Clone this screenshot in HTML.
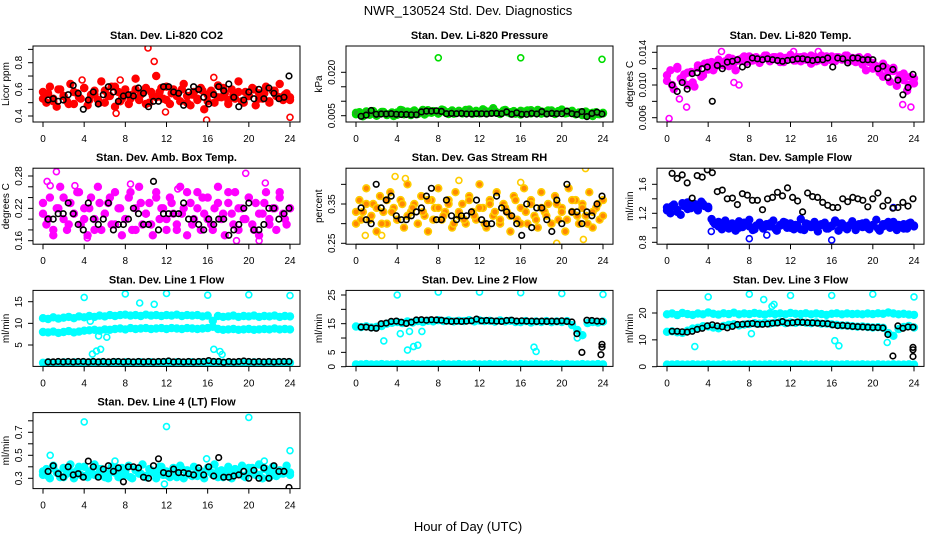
<!DOCTYPE html>
<html><head><meta charset="utf-8">
<style>
html,body{margin:0;padding:0;background:#fff;}
svg{display:block;font-family:"Liberation Sans",Arial,sans-serif;}
</style></head>
<body>
<svg id="chart" width="936" height="540" viewBox="0 0 936 540" xmlns="http://www.w3.org/2000/svg">
<rect width="936" height="540" fill="#fff"/>
<text x="468" y="15" text-anchor="middle" font-size="13">NWR_130524 Std. Dev. Diagnostics</text>
<text x="468" y="531" text-anchor="middle" font-size="13">Hour of Day (UTC)</text>
</svg>
<script>
const xTicks = [0,4,8,12,16,20,24];

const co2 = [0.58,0.50,0.62,0.53,0.47,0.60,0.55,0.51,0.64,0.49,0.57,0.53,0.61,0.48,0.56,0.59,0.52,0.66,0.50,0.55,0.62,0.47,0.58,0.53,0.60,0.49,0.56,0.68,0.52,0.57,0.61,0.50,0.55,0.70,0.58,0.53,0.62,0.49,0.60,0.56,0.51,0.64,0.55,0.48,0.58,0.52,0.61,0.45,0.56,0.59,0.50,0.63,0.54,0.57,0.49,0.60,0.53,0.66,0.51,0.58,0.55,0.61,0.48,0.57,0.53,0.62,0.50,0.59,0.55,0.64,0.52,0.57,0.54];
const co2B = [0.53,0.57,0.51,0.60,0.55,0.49,0.58,0.54,0.61,0.52,0.56,0.50,0.59,0.55,0.62,0.51,0.57,0.53,0.60,0.56,0.49,0.58,0.54,0.61,0.52,0.57,0.55,0.60,0.50,0.56,0.53,0.59,0.51,0.57,0.54,0.61,0.52,0.56,0.58,0.50,0.55,0.60,0.53,0.57,0.51,0.59,0.54,0.56,0.52];
const co2Out = [[10.2,0.91],[10.8,0.81],[15.9,0.37],[24,0.39],[7.1,0.42],[11.9,0.43],[16.6,0.69],[7.5,0.67],[3.8,0.67]];
const co2Black = [0.52,0.53,0.51,0.52,0.56,0.63,0.57,0.45,0.52,0.58,0.49,0.56,0.62,0.58,0.51,0.55,0.56,0.55,0.61,0.57,0.47,0.51,0.51,0.62,0.62,0.58,0.57,0.48,0.58,0.62,0.60,0.54,0.49,0.56,0.62,0.59,0.64,0.54,0.47,0.52,0.58,0.53,0.60,0.53,0.61,0.57,0.53,0.54,0.70];

const pres = [0.0055,0.0062,0.0048,0.0060,0.0053,0.0066,0.0050,0.0058,0.0063,0.0052,0.0057,0.0049,0.0061,0.0070,0.0055,0.0064,0.0052,0.0068,0.0058,0.0063,0.0054,0.0069,0.0060,0.0065,0.0057,0.0071,0.0062,0.0056,0.0068,0.0060,0.0066,0.0058,0.0070,0.0062,0.0057,0.0067,0.0060,0.0072,0.0058,0.0065,0.0076,0.0061,0.0056,0.0068,0.0062,0.0058,0.0066,0.0060,0.0054,0.0064,0.0068,0.0058,0.0062,0.0070,0.0057,0.0063,0.0068,0.0060,0.0056,0.0066,0.0071,0.0058,0.0063,0.0067,0.0055,0.0061,0.0052,0.0064,0.0058,0.0049,0.0062,0.0055,0.0060];
const presB = [0.0060,0.0052,0.0065,0.0057,0.0050,0.0063,0.0055,0.0061,0.0053,0.0068,0.0059,0.0064,0.0056,0.0070,0.0061,0.0066,0.0058,0.0069,0.0062,0.0057,0.0067,0.0060,0.0071,0.0063,0.0058,0.0068,0.0061,0.0066,0.0059,0.0070,0.0062,0.0057,0.0067,0.0063,0.0069,0.0060,0.0065,0.0058,0.0068,0.0061,0.0066,0.0059,0.0064,0.0057,0.0062,0.0053,0.0060,0.0056,0.0058];
const presOut = [[8,0.025],[16,0.025],[23.9,0.0245]];
const presBlack = [0.0048,0.0052,0.0068,0.0055,0.0056,0.0056,0.0057,0.0055,0.0054,0.0054,0.0053,0.0053,0.0063,0.0066,0.0066,0.0067,0.0065,0.0057,0.0058,0.0057,0.0058,0.0056,0.0056,0.0057,0.0057,0.0056,0.0058,0.0058,0.0057,0.0063,0.0055,0.0060,0.0055,0.0055,0.0058,0.0056,0.0064,0.0056,0.0058,0.0057,0.0057,0.0066,0.0057,0.0054,0.0064,0.0047,0.0058,0.0062,0.0056];

const temp = [0.0105,0.0118,0.0095,0.0122,0.0108,0.0113,0.0100,0.0116,0.0098,0.0121,0.0110,0.0126,0.0119,0.0128,0.0122,0.0131,0.0125,0.0129,0.0123,0.0132,0.0118,0.0130,0.0133,0.0128,0.0135,0.0130,0.0134,0.0127,0.0133,0.0136,0.0129,0.0134,0.0131,0.0135,0.0128,0.0133,0.0137,0.0130,0.0134,0.0129,0.0135,0.0131,0.0126,0.0134,0.0130,0.0136,0.0128,0.0133,0.0135,0.0129,0.0134,0.0131,0.0136,0.0130,0.0133,0.0128,0.0134,0.0125,0.0118,0.0128,0.0120,0.0123,0.0115,0.0110,0.0121,0.0104,0.0117,0.0099,0.0112,0.0106,0.0093,0.0110,0.0102];
const tempB = [0.0112,0.0100,0.0120,0.0106,0.0115,0.0103,0.0124,0.0112,0.0127,0.0118,0.0130,0.0124,0.0133,0.0127,0.0131,0.0135,0.0129,0.0133,0.0130,0.0136,0.0131,0.0134,0.0128,0.0133,0.0135,0.0130,0.0134,0.0131,0.0136,0.0129,0.0133,0.0135,0.0130,0.0134,0.0132,0.0136,0.0130,0.0133,0.0131,0.0134,0.0127,0.0122,0.0126,0.0116,0.0121,0.0108,0.0114,0.0100,0.0108];
const tempOut = [[0.2,0.0059],[1.9,0.0073],[6.5,0.0103],[7,0.0100],[22.9,0.0076],[23.7,0.0073],[5.3,0.0141],[1.2,0.0083],[14.7,0.0141],[12.3,0.0141]];
const tempBlack = [0.0100,0.0092,0.0103,0.0095,0.0114,0.0115,0.0120,0.0122,0.0080,0.0124,0.0120,0.0128,0.0129,0.0131,0.0122,0.0125,0.0133,0.0132,0.0131,0.0132,0.0131,0.0130,0.0129,0.0130,0.0131,0.0132,0.0132,0.0131,0.0130,0.0131,0.0131,0.0133,0.0122,0.0133,0.0132,0.0127,0.0133,0.0133,0.0131,0.0131,0.0131,0.0120,0.0123,0.0109,0.0119,0.0106,0.0088,0.0097,0.0113];

const amb = [0.21,0.19,0.24,0.17,0.22,0.26,0.20,0.18,0.23,0.21,0.25,0.19,0.22,0.17,0.24,0.20,0.26,0.18,0.21,0.23,0.19,0.25,0.22,0.17,0.20,0.24,0.18,0.22,0.26,0.19,0.21,0.23,0.17,0.25,0.20,0.22,0.18,0.24,0.21,0.19,0.26,0.22,0.17,0.23,0.20,0.25,0.18,0.21,0.24,0.19,0.22,0.26,0.20,0.17,0.23,0.21,0.25,0.18,0.22,0.20,0.24,0.19,0.23,0.17,0.21,0.25,0.20,0.22,0.18,0.24,0.21,0.19,0.22];
const ambB = [0.23,0.20,0.18,0.22,0.24,0.19,0.21,0.25,0.20,0.22,0.18,0.23,0.21,0.24,0.19,0.22,0.20,0.25,0.18,0.23,0.21,0.19,0.24,0.22,0.20,0.23,0.18,0.21,0.25,0.19,0.22,0.24,0.20,0.18,0.23,0.21,0.25,0.19,0.22,0.20,0.24,0.18,0.21,0.23,0.19,0.22,0.25,0.20,0.22];
const ambOut = [[1.3,0.288],[0.4,0.27],[0.7,0.262],[19.7,0.285],[18.8,0.16],[21,0.16],[4.3,0.165],[21.6,0.267],[8.5,0.265],[3.1,0.262],[13.1,0.256]];
const ambBlack = [0.20,0.20,0.21,0.21,0.23,0.21,0.19,0.18,0.23,0.20,0.19,0.20,0.23,0.18,0.19,0.19,0.20,0.22,0.21,0.19,0.19,0.27,0.18,0.21,0.21,0.21,0.21,0.23,0.20,0.20,0.19,0.18,0.20,0.19,0.20,0.20,0.17,0.18,0.19,0.22,0.23,0.18,0.18,0.19,0.22,0.22,0.20,0.21,0.22];

const rh = [0.30,0.36,0.33,0.39,0.31,0.35,0.28,0.37,0.33,0.30,0.38,0.34,0.31,0.36,0.29,0.40,0.33,0.35,0.30,0.37,0.32,0.28,0.36,0.34,0.39,0.31,0.33,0.36,0.29,0.38,0.32,0.35,0.30,0.37,0.33,0.31,0.40,0.34,0.29,0.36,0.32,0.38,0.30,0.35,0.33,0.28,0.37,0.31,0.34,0.39,0.30,0.36,0.32,0.29,0.38,0.33,0.35,0.30,0.37,0.31,0.34,0.28,0.39,0.33,0.36,0.30,0.35,0.32,0.38,0.29,0.34,0.31,0.36];
const rhB = [0.33,0.31,0.35,0.32,0.34,0.30,0.36,0.33,0.31,0.35,0.32,0.34,0.30,0.33,0.36,0.31,0.34,0.32,0.35,0.30,0.33,0.31,0.36,0.32,0.34,0.30,0.35,0.33,0.31,0.34,0.32,0.36,0.30,0.33,0.35,0.31,0.34,0.32,0.30,0.35,0.33,0.31,0.36,0.32,0.34,0.30,0.33,0.35,0.32];
const rhOut = [[3.8,0.42],[4.8,0.415],[22.3,0.44],[22.1,0.26],[19.5,0.25],[16,0.405],[0.9,0.27],[2.5,0.27],[10,0.41]];
const rhBlack = [0.34,0.31,0.30,0.40,0.34,0.36,0.37,0.32,0.31,0.31,0.32,0.33,0.34,0.37,0.39,0.31,0.31,0.36,0.32,0.31,0.32,0.32,0.33,0.36,0.31,0.30,0.30,0.37,0.34,0.33,0.32,0.30,0.27,0.35,0.29,0.34,0.34,0.31,0.28,0.36,0.30,0.40,0.33,0.33,0.30,0.33,0.32,0.35,0.37];

const flow = [1.28,1.20,1.32,1.25,1.18,1.30,1.35,1.27,1.33,1.24,1.36,1.30,1.27,1.12,1.05,1.08,0.98,1.10,1.02,1.06,0.96,1.09,1.01,1.04,1.11,0.97,1.03,1.07,0.99,1.05,1.02,1.10,0.96,1.04,1.08,1.00,1.06,0.98,1.03,1.12,0.97,1.05,1.01,1.08,0.95,1.04,1.07,0.99,1.02,1.10,0.96,1.06,1.00,1.03,1.09,0.97,1.05,1.01,1.07,0.98,1.04,1.11,0.96,1.02,1.06,1.00,1.08,0.97,1.03,1.05,0.99,1.07,1.02];
const flowB = [1.24,1.30,1.22,1.34,1.26,1.31,1.28,1.33,1.29,1.08,1.02,1.06,0.99,1.04,1.00,1.07,1.02,0.98,1.05,1.01,1.06,0.99,1.03,1.07,1.00,1.04,0.98,1.06,1.02,1.00,1.05,0.99,1.03,1.07,1.01,0.98,1.04,1.02,1.06,1.00,1.03,0.99,1.05,1.08,1.01,1.04,0.99,1.06,1.03];
const flowOut = [[8,0.85],[16,0.83],[4.3,0.95],[22,1.28],[9.7,0.9]];
const flowBlack = [1.75,1.68,1.73,1.62,1.41,1.72,1.70,1.80,1.76,1.50,1.52,1.40,1.41,1.32,1.47,1.45,1.38,1.38,1.25,1.40,1.42,1.49,1.44,1.55,1.42,1.37,1.22,1.48,1.43,1.42,1.35,1.31,1.28,1.28,1.40,1.36,1.42,1.40,1.38,1.29,1.40,1.48,1.30,1.38,1.27,1.28,1.35,1.30,1.40];

const line1Upper = [11.2,11.0,11.4,11.1,11.3,11.5,11.2,11.6,11.4,11.7,11.5,11.8,11.6,11.9,11.7,11.9,12.0,11.8,11.9,11.7,12.0,11.8,11.9,11.7,11.9,11.8,12.0,11.7,11.9,11.8,11.9,11.6,11.8,10.6,11.7,11.5,11.6,11.8,11.5,11.7,11.6,11.8,11.5,11.7,11.6,11.8,11.5,11.7,11.6];
const line1Lower = [8.0,7.9,8.1,7.8,8.0,8.2,7.9,8.1,8.3,8.4,8.5,8.3,8.6,8.5,8.7,8.8,8.6,8.9,8.7,8.8,8.9,8.7,8.8,8.9,8.7,8.9,8.8,8.7,8.9,8.8,8.7,8.8,8.9,9.2,8.7,8.5,8.6,8.7,8.5,8.6,8.7,8.5,8.6,8.7,8.6,8.8,8.6,8.7,8.6];
const line1Base = [0.9,1.0,0.9,0.9,1.0,0.9,1.0,0.9,0.9,1.0,0.9,1.0,0.9,0.9,1.0,0.9,1.0,0.9,0.9,1.0,0.9,1.0,0.9,0.9,1.0,0.9,1.0,0.9,0.9,1.0,0.9,1.0,0.9,0.9,1.0,0.9,1.0,0.9,0.9,1.0,0.9,1.0,0.9,0.9,1.0,0.9,1.0,0.9,0.9];
const line1Out = [[4,16],[8,16.8],[12,16.9],[16,16.5],[20,16.6],[24,16.4],[9.4,14.7],[10.8,14.4],[4.8,2.9],[5.2,3.6],[5.6,4.0],[16.6,4.0],[17.2,3.5],[17.4,2.8],[5.4,7.1],[6.2,6.8],[4.6,10.5]];
const line1Black = [1.1,1.1,1.2,1.1,1.2,1.1,1.2,1.2,1.1,1.2,1.1,1.2,1.1,1.2,1.2,1.1,1.2,1.1,1.2,1.1,1.2,1.1,1.2,1.2,1.3,1.1,1.2,1.1,1.2,1.1,1.2,1.2,1.4,1.2,1.2,1.0,1.2,1.1,1.2,1.3,1.2,1.1,1.2,1.1,1.2,1.1,1.2,1.2,1.2];

const line2Band = [14.0,13.8,14.1,13.7,13.9,14.2,15.0,15.3,15.6,15.2,15.8,15.4,15.9,15.6,16.0,15.8,16.2,15.9,16.1,15.8,16.0,15.9,16.2,15.8,16.1,15.9,16.0,15.7,16.1,15.8,16.0,15.6,15.5,15.9,15.4,15.8,15.6,15.9,15.5,15.8,15.6,15.9,14.5,12.8,11.0,15.2,15.6,15.4,15.7];
const line2Base = [0.8,0.8,0.9,0.8,0.8,0.9,0.8,0.8,0.9,0.8,0.8,0.9,0.8,0.8,0.9,0.8,0.8,0.9,0.8,0.8,0.9,0.8,0.8,0.9,0.8,0.8,0.9,0.8,0.8,0.9,0.8,0.8,0.9,0.8,0.8,0.9,0.8,0.8,0.9,0.8,0.8,0.9,0.8,0.8,0.9,0.8,0.8,0.9,0.8];
const line2Out = [[4,25],[8,26],[12,26],[16,25.8],[20,25.5],[24,25.2],[2.7,9],[4.3,11.5],[5.2,12.3],[5,5.8],[5.6,7],[6,7.5],[6.4,12.3],[17.3,6.8],[17.5,5.3],[21.5,10]];
const line2Black = [13.8,13.8,13.5,13.4,15.0,15.2,15.8,15.9,15.5,15.1,15.5,16.3,16.4,16.2,16.4,16.3,16.2,15.9,15.8,15.9,15.8,15.9,16.0,16.6,16.0,16.1,16.0,15.9,15.8,16.1,16.2,15.9,16.0,15.9,15.9,15.8,15.9,15.8,15.9,15.8,16.0,15.8,15.6,11.5,5.0,16.2,16.1,15.9,15.8];
const line2BlackOut = [[23.8,4.2],[23.9,6.8],[23.9,7.8]];

const line3Upper = [19.5,19.8,19.2,20.0,19.6,19.3,19.8,19.5,20.2,19.7,19.4,19.9,19.6,20.1,19.5,19.8,19.6,20.0,19.7,19.4,19.9,19.6,19.8,19.5,20.0,19.7,19.6,19.9,19.5,19.8,19.6,19.3,19.7,19.9,19.5,19.8,19.6,19.7,19.5,19.8,19.6,19.9,19.7,20.2,19.8,19.5,19.7,19.4,19.3];
const line3Middle = [13.0,13.2,12.8,12.6,13.4,14.2,14.5,15.1,15.0,14.6,14.3,15.2,15.6,15.8,15.4,15.7,15.9,16.2,16.0,16.3,16.1,16.4,16.6,16.2,16.5,16.3,16.6,16.4,16.2,16.5,16.0,16.1,15.8,15.6,15.4,15.3,15.1,14.9,15.0,14.8,14.6,14.7,14.5,12.5,11.5,14.0,14.8,15.2,14.6];
const line3Base = [0.8,0.8,0.9,0.8,0.8,0.9,0.8,0.8,0.9,0.8,0.8,0.9,0.8,0.8,0.9,0.8,0.8,0.9,0.8,0.8,0.9,0.8,0.8,0.9,0.8,0.8,0.9,0.8,0.8,0.9,0.8,0.8,0.9,0.8,0.8,0.9,0.8,0.8,0.9,0.8,0.8,0.9,0.8,0.8,0.9,0.8,0.8,0.9,0.8];
const line3Out = [[4,26],[8,27],[12,26.5],[16,26.5],[20,27],[24,26],[9.4,25],[10.2,22.5],[10.4,23.2],[2.7,7.5],[8.2,12.3],[16.3,9.7],[16.7,7.8],[21.4,9]];
const line3Black = [13.2,13.2,13.0,12.9,13.2,13.9,14.3,15.2,15.6,15.2,14.9,14.5,15.0,15.7,15.8,15.9,16.1,15.8,15.8,15.9,16.2,16.3,16.8,16.2,16.4,16.6,16.5,16.4,16.3,16.2,16.1,16.0,15.6,15.3,15.4,15.2,15.0,14.9,14.8,14.7,14.6,14.6,14.4,12.0,4.0,15.2,14.3,14.8,14.7];
const line3BlackOut = [[23.9,3.8],[23.9,6.3],[23.9,7.2]];

const line4 = [0.33,0.38,0.30,0.41,0.35,0.31,0.39,0.34,0.42,0.30,0.37,0.33,0.40,0.31,0.36,0.42,0.32,0.38,0.34,0.30,0.40,0.35,0.31,0.39,0.33,0.41,0.30,0.37,0.34,0.42,0.31,0.38,0.35,0.30,0.40,0.33,0.36,0.31,0.39,0.34,0.41,0.30,0.37,0.33,0.40,0.32,0.36,0.30,0.39,0.35,0.42,0.31,0.37,0.33,0.40,0.30,0.38,0.34,0.41,0.31,0.36,0.39,0.33,0.42,0.30,0.38,0.35,0.40,0.32,0.37,0.34,0.41,0.33];
const line4B = [0.36,0.32,0.39,0.34,0.31,0.37,0.35,0.40,0.32,0.36,0.33,0.38,0.31,0.35,0.39,0.33,0.36,0.31,0.38,0.34,0.32,0.37,0.35,0.40,0.33,0.36,0.31,0.38,0.34,0.32,0.37,0.35,0.39,0.33,0.36,0.31,0.38,0.34,0.37,0.32,0.39,0.35,0.33,0.38,0.31,0.36,0.34,0.37,0.35];
const line4Out = [[4,0.79],[12,0.75],[20,0.83],[24,0.54],[0.7,0.5],[15.9,0.47],[11.8,0.25],[7,0.45],[21.5,0.45]];
const line4Black = [0.36,0.41,0.34,0.31,0.40,0.33,0.34,0.31,0.45,0.40,0.31,0.38,0.41,0.36,0.39,0.27,0.40,0.40,0.39,0.31,0.30,0.41,0.47,0.35,0.34,0.38,0.35,0.35,0.34,0.33,0.39,0.33,0.40,0.32,0.48,0.31,0.31,0.32,0.33,0.36,0.30,0.37,0.30,0.39,0.30,0.41,0.36,0.36,0.22];

const panels = [
 {name:'co2',title:'Stan. Dev. Li-820 CO2',ylab:'Licor ppm',c:0,r:0,cal:[0.4,116,0.8,62.7],ticks:[0.4,0.5,0.6,0.7,0.8,0.9],labels:[0.4,0.6,0.8],fmt:1,col:'#ff0000',fill:'#ff0000',series:[co2,co2B],out:co2Out,black:co2Black,bout:[]},
 {name:'pressure',title:'Stan. Dev. Li-820 Pressure',ylab:'kPa',c:1,r:0,cal:[0.005,115.7,0.020,72.3],ticks:[0.005,0.010,0.015,0.020],labels:[0.005,0.020],fmt:3,col:'#00dd00',fill:'#22aa22',series:[pres,presB],out:presOut,black:presBlack,bout:[]},
 {name:'li820-temp',title:'Stan. Dev. Li-820 Temp.',ylab:'degrees C',c:2,r:0,cal:[0.006,117.7,0.014,52.3],ticks:[0.006,0.008,0.010,0.012,0.014],labels:[0.006,0.010,0.014],fmt:3,col:'#ff00ff',fill:'#ff00ff',series:[temp,tempB],out:tempOut,black:tempBlack,bout:[]},
 {name:'amb-box-temp',title:'Stan. Dev. Amb. Box Temp.',ylab:'degrees C',c:0,r:1,cal:[0.16,240.7,0.28,176],ticks:[0.16,0.18,0.20,0.22,0.24,0.26,0.28],labels:[0.16,0.22,0.28],fmt:2,col:'#ff00ff',fill:'#ff00ff',series:[amb,ambB],out:ambOut,black:ambBlack,bout:[]},
 {name:'gas-stream-rh',title:'Stan. Dev. Gas Stream RH',ylab:'percent',c:1,r:1,cal:[0.25,243.3,0.35,204],ticks:[0.25,0.30,0.35,0.40],labels:[0.25,0.35],fmt:2,col:'#ffcc00',fill:'#ff8800',series:[rh,rhB],out:rhOut,black:rhBlack,bout:[]},
 {name:'sample-flow',title:'Stan. Dev. Sample Flow',ylab:'ml/min',c:2,r:1,cal:[0.8,242.3,1.6,184.3],ticks:[0.8,1.0,1.2,1.4,1.6],labels:[0.8,1.2,1.6],fmt:1,col:'#0000ff',fill:'#0000ff',series:[flow,flowB],out:flowOut,black:flowBlack,bout:[]},
 {name:'line1-flow',title:'Stan. Dev. Line 1 Flow',ylab:'ml/min',c:0,r:2,cal:[5,345,15,301.7],ticks:[5,10,15],labels:[5,10,15],fmt:0,col:'#00ffff',fill:'#00ffff',series:[line1Upper,line1Lower,line1Base],out:line1Out,black:line1Black,bout:[]},
 {name:'line2-flow',title:'Stan. Dev. Line 2 Flow',ylab:'ml/min',c:1,r:2,cal:[0,366.7,25,295],ticks:[0,5,10,15,20,25],labels:[0,5,15,25],fmt:0,col:'#00ffff',fill:'#00ffff',series:[line2Band,line2Base],out:line2Out,black:line2Black,bout:line2BlackOut},
 {name:'line3-flow',title:'Stan. Dev. Line 3 Flow',ylab:'ml/min',c:2,r:2,cal:[0,366.7,20,313],ticks:[0,10,20],labels:[0,10,20],fmt:0,col:'#00ffff',fill:'#00ffff',series:[line3Upper,line3Middle,line3Base],out:line3Out,black:line3Black,bout:line3BlackOut},
 {name:'line4-flow',title:'Stan. Dev. Line 4 (LT) Flow',ylab:'ml/min',c:0,r:3,cal:[0.3,478.3,0.7,432.3],ticks:[0.3,0.4,0.5,0.6,0.7,0.8],labels:[0.3,0.5,0.7],fmt:1,col:'#00ffff',fill:'#00ffff',series:[line4,line4B],out:line4Out,black:line4Black,bout:[]}
];

const NS='http://www.w3.org/2000/svg';
const svg=document.getElementById('chart');
const colLeft=[33,346,657], rowTop=[46,168.2,290.4,412.6], W=267, H=76;
function mk(tag,attrs,parent){const e=document.createElementNS(NS,tag);for(const k in attrs)e.setAttribute(k,attrs[k]);parent.appendChild(e);return e;}

panels.forEach(p=>{
  const L=colLeft[p.c], T=rowTop[p.r], B=T+H, R=L+W;
  const xs=h=>L+10+h*(W-20)/24;
  const [v1,y1,v2,y2]=p.cal;
  const ys=v=>y1+(v-v1)*(y2-y1)/(v2-v1);
  const g=mk('g',{},svg);
  
  
  const clip=mk('clipPath',{id:'clip-'+p.name},g);
  mk('rect',{x:L,y:T,width:W,height:H},clip);
  const t=mk('text',{x:(L+R)/2,y:T-7,'text-anchor':'middle','font-size':'11','font-weight':'bold'},g);
  t.textContent=p.title;
  
  
  const pts=mk('g',{'clip-path':'url(#clip-'+p.name+')'},g);
  
  
  function dot(h,v,stroke,fill,r,sw){
    const c=mk('circle',{cx:xs(h).toFixed(1),cy:ys(v).toFixed(1),r:r,fill:fill,stroke:stroke,'stroke-width':sw},pts);
    
    
  }
  p.series.forEach(s=>{s.forEach((v,i)=>dot(i*24/(s.length-1),v,p.col,p.fill,3.4,1.6));});
  p.out.forEach(o=>dot(o[0],o[1],p.col,'none',3,1.6));
  p.black.forEach((v,i)=>dot(0.5+i*23.4/(p.black.length-1),v,'#000','none',2.8,1.6));
  p.bout.forEach(o=>dot(o[0],o[1],'#000','none',2.8,1.6));
  const box=mk('rect',{x:L,y:T,width:W,height:H,fill:'none',stroke:'#000','stroke-width':1},g);
  
  
  mk('line',{x1:xs(0),x2:xs(24),y1:B,y2:B,stroke:'#000'},g);
  xTicks.forEach(h=>{
    mk('line',{x1:xs(h),x2:xs(h),y1:B,y2:B+5,stroke:'#000'},g);
    const tl=mk('text',{x:xs(h),y:B+20,'text-anchor':'middle','font-size':'10'},g);
    tl.textContent=h;
    
    
  });
  mk('line',{x1:L,x2:L,y1:ys(p.ticks[0]),y2:ys(p.ticks[p.ticks.length-1]),stroke:'#000'},g);
  p.ticks.forEach(v=>{mk('line',{x1:L-5,x2:L,y1:ys(v),y2:ys(v),stroke:'#000'},g);});
  p.labels.forEach(v=>{
    const y=ys(v);
    const tl=mk('text',{x:L-11,y:y,'text-anchor':'middle','font-size':'10',transform:'rotate(-90 '+(L-11)+' '+y+')'},g);
    tl.textContent=v.toFixed(p.fmt);
    
    
  });
  const yl=mk('text',{x:L-24,y:(T+B)/2,'text-anchor':'middle','font-size':'10',transform:'rotate(-90 '+(L-24)+' '+((T+B)/2)+')'},g);
  yl.textContent=p.ylab;
  
  
});
</script>
</body></html>
